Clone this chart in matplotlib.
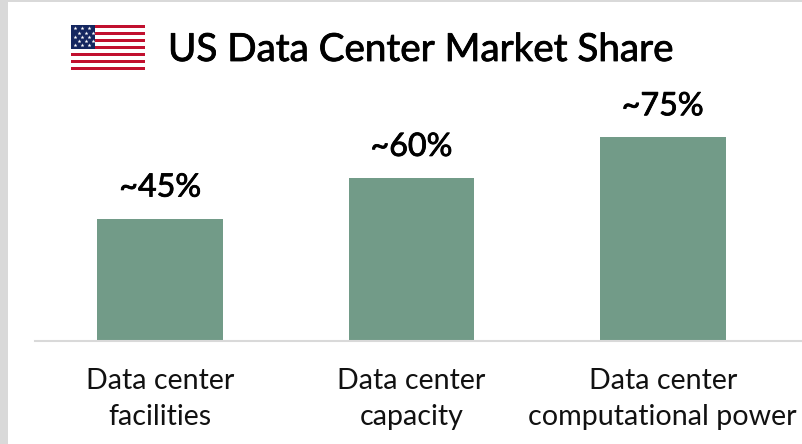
import matplotlib
matplotlib.use('Agg')
import matplotlib.pyplot as plt
import matplotlib.patheffects as pe
from matplotlib.patches import Rectangle

categories = ['Data center\nfacilities', 'Data center\ncapacity', 'Data center\ncomputational power']
shares = [45, 60, 75]
bar_labels = ['~45%', '~60%', '~75%']
title = 'US Data Center Market Share'

W, H = 803, 444
plt.rcParams['font.family'] = ['Lato', 'DejaVu Sans']

fig = plt.figure(figsize=(W / 100, H / 100), dpi=100, facecolor='#d9d9d9')

# white panel
fig.patches.append(Rectangle((8 / W, 0), 1 - 8 / W, 1 - 2 / H, transform=fig.transFigure,
                             facecolor='white', edgecolor='none', zorder=-1))

ax = fig.add_axes([35.2 / W, 1 - 340.5 / H, 768 / W, 340.5 / H], facecolor='none')
x = range(len(categories))
ax.bar(x, shares, width=0.5, color='#729b88')
ax.set_xlim(-0.4975, 2.559)
ax.set_ylim(0, 340.5 / 2.71)

# regular Lato is a bit thin, a small stroke brings it to the medium look
medium = [pe.withStroke(linewidth=0.6, foreground='black')]

for i, label in enumerate(bar_labels):
    ax.annotate(label, (i, shares[i]), xytext=(0, 11.5), textcoords='offset points',
                ha='center', va='bottom', fontsize=23.2, color='black', path_effects=medium)

for s in ['top', 'left', 'right']:
    ax.spines[s].set_visible(False)
ax.spines['bottom'].set_color('#d9d9d9')
ax.spines['bottom'].set_linewidth(1.5)
ax.set_yticks([])
ax.set_xticks(list(x))
ax.set_xticklabels(categories, fontsize=20.6, color='#111111', linespacing=1.48)
ax.tick_params(axis='x', length=0, pad=20)

fig.text(168 / W, 1 - 50 / H, title, fontsize=27.8, color='black',
         ha='left', va='center', path_effects=medium)

# flag
flag = fig.add_axes([71 / W, 1 - 70 / H, 74 / W, 45 / H])
flag.set_xlim(0, 74)
flag.set_ylim(13, 0)
flag.axis('off')
for i in range(13):
    flag.add_patch(Rectangle((0, i), 74, 1, facecolor='#c1102e' if i % 2 == 0 else 'white', edgecolor='none'))
flag.add_patch(Rectangle((0, 0), 24, 7, facecolor='#14265f', edgecolor='none'))
star_x = [4, 11, 18, 8, 15, 22]
star_y = [1, 1, 1, 2.2, 2.2, 2.2]
for row in [0, 2.4, 4.8]:
    flag.scatter(star_x[:3], [v + row for v in star_y[:3]], marker='*', s=9, color='white', linewidths=0)
for row in [0, 2.4]:
    flag.scatter(star_x[3:], [v + row for v in star_y[3:]], marker='*', s=9, color='white', linewidths=0)

fig.savefig('out.png', dpi=100, facecolor=fig.get_facecolor())
